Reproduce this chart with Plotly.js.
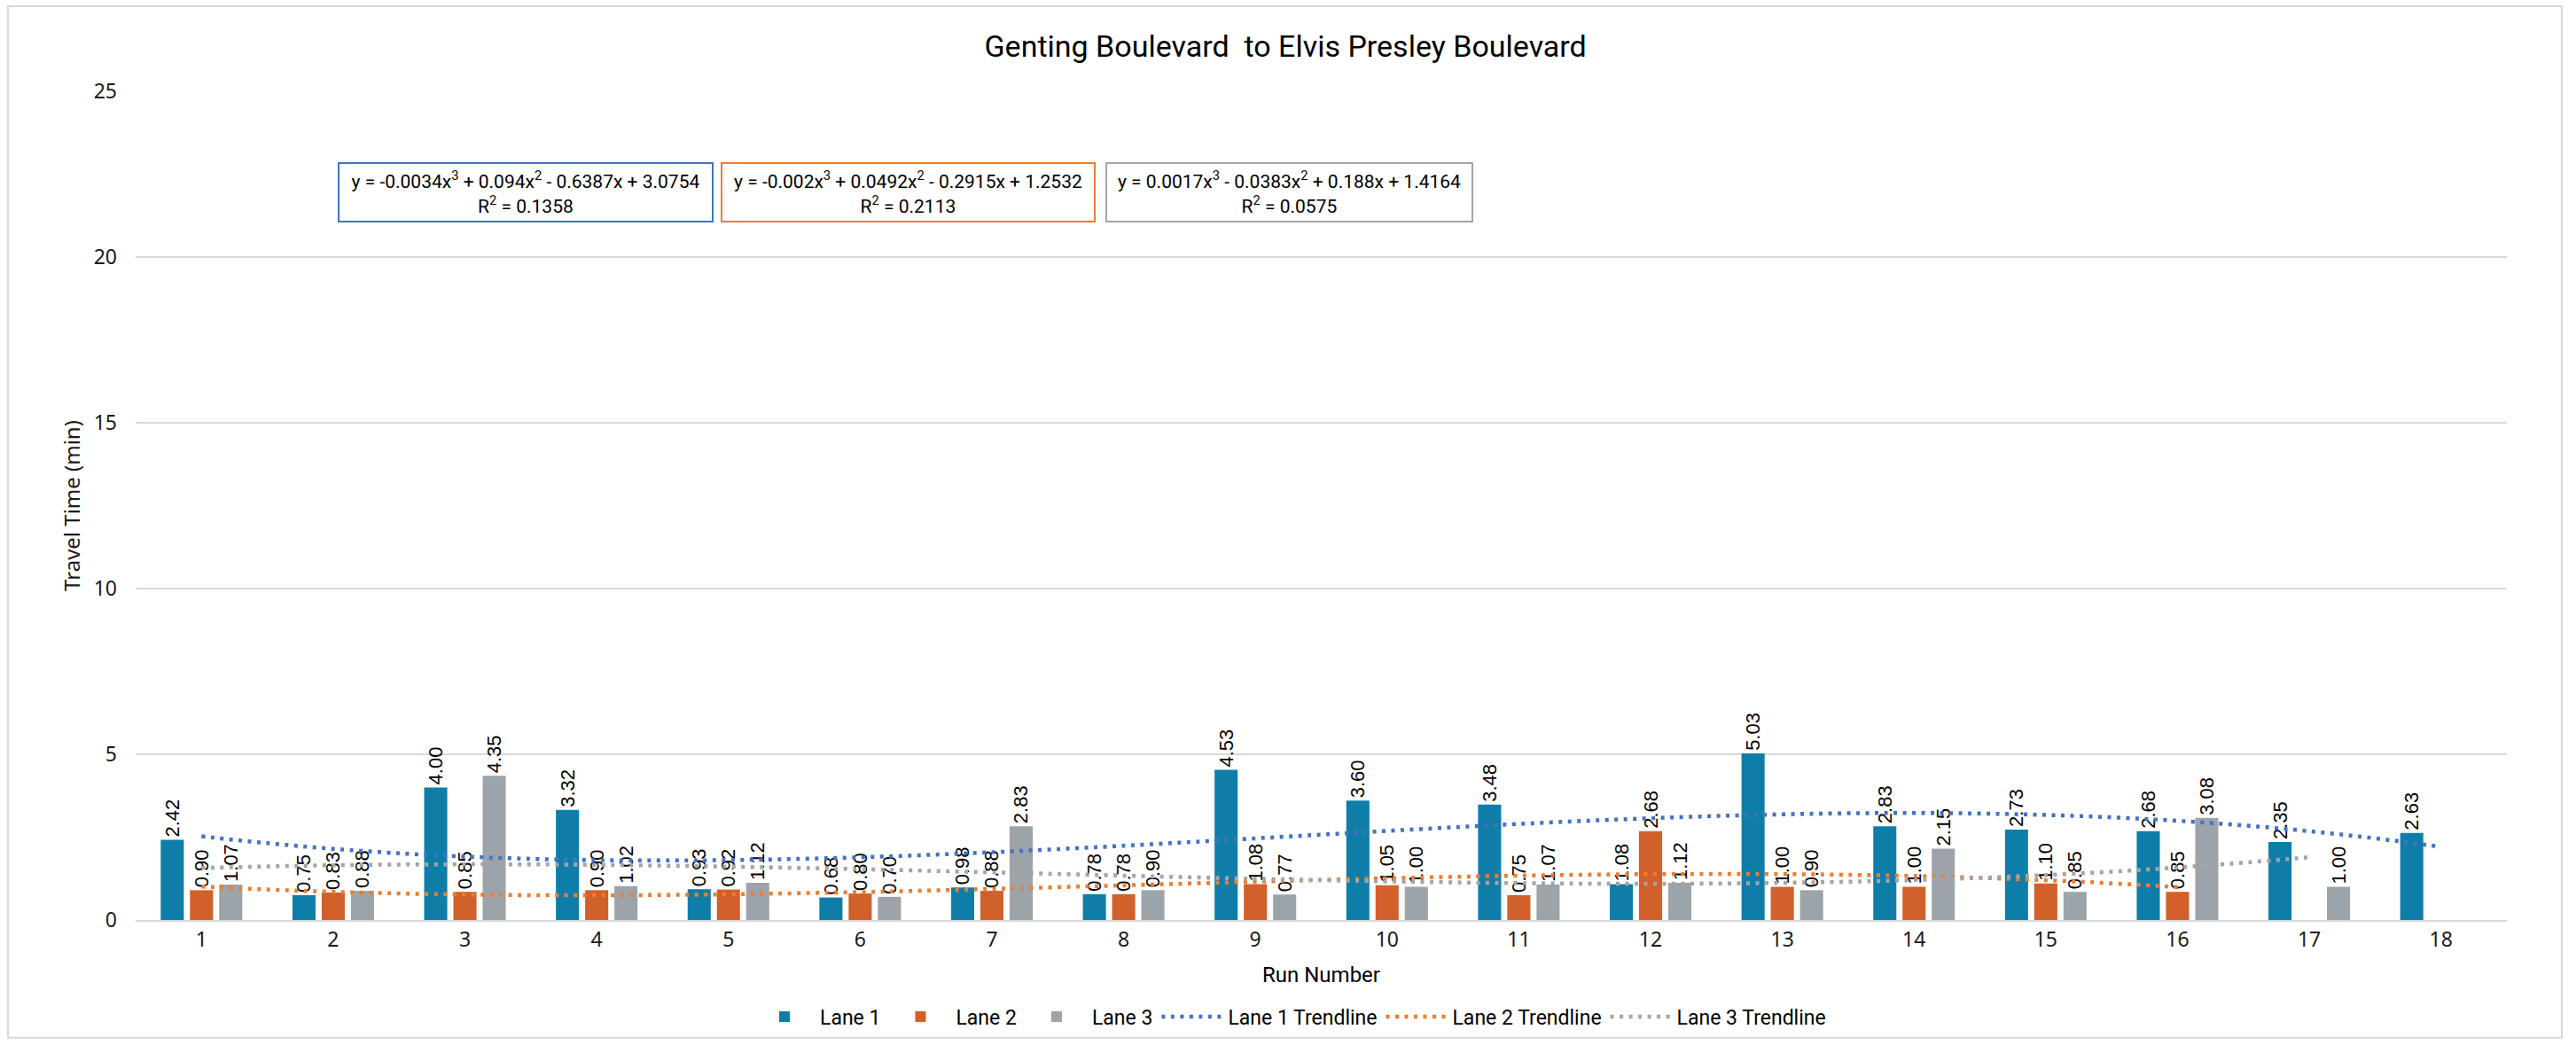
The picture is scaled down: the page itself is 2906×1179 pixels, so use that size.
<!DOCTYPE html>
<html>
<head>
<meta charset="utf-8">
<script src="https://cdn.plot.ly/plotly-3.0.1.min.js"></script>
<style>
  html, body { margin: 0; padding: 0; background: #ffffff; }
  #chart { width: 2906px; height: 1179px; }
</style>
</head>
<body>
<div id="chart"></div>
<script>
// ---- Data ----
const runNumbers = [1, 2, 3, 4, 5, 6, 7, 8, 9, 10, 11, 12, 13, 14, 15, 16, 17, 18];
const lane1 = [2.42, 0.75, 4.00, 3.32, 0.93, 0.68, 0.98, 0.78, 4.53, 3.60, 3.48, 1.08, 5.03, 2.83, 2.73, 2.68, 2.35, 2.63];
const lane2 = [0.90, 0.83, 0.85, 0.90, 0.92, 0.80, 0.88, 0.78, 1.08, 1.05, 0.75, 2.68, 1.00, 1.00, 1.10, 0.85, null, null];
const lane3 = [1.07, 0.88, 4.35, 1.02, 1.12, 0.70, 2.83, 0.90, 0.77, 1.00, 1.07, 1.12, 0.90, 2.15, 0.85, 3.08, 1.00, null];

// Polynomial (order 3) trendline coefficients as printed on the chart: [x^3, x^2, x, const]
const trend1Coef = [-0.0034, 0.094, -0.6387, 3.0754];
const trend2Coef = [-0.002, 0.0492, -0.2915, 1.2532];
const trend3Coef = [0.0017, -0.0383, 0.188, 1.4164];
const trend1R2 = "0.1358";
const trend2R2 = "0.2113";
const trend3R2 = "0.0575";

const seriesNames = ["Lane 1", "Lane 2", "Lane 3", "Lane 1 Trendline", "Lane 2 Trendline", "Lane 3 Trendline"];
const chartTitle = "Genting Boulevard  to Elvis Presley Boulevard";
const xTitle = "Run Number";
const yTitle = "Travel Time (min)";

// ---- Styling ----
const barColors = ["#0E7EA9", "#D2602A", "#9CA3A9"];
const trendColors = ["#4472C4", "#ED7D31", "#A5A5A5"];
const narrow = "Roboto, 'Liberation Sans', sans-serif";
const tickFont = "'Noto Sans', 'Open Sans', sans-serif";
const labelFont = "'Liberation Sans', Arial, sans-serif";

function countValid(arr) { let n = 0; arr.forEach(v => { if (v !== null) n++; }); return n; }

function trendCurve(coef, n) {
  const xs = [], ys = [];
  for (let i = 0; i <= (n - 1) * 10; i++) {
    const x = 1 + i / 10;
    xs.push(x);
    ys.push(coef[0] * x * x * x + coef[1] * x * x + coef[2] * x + coef[3]);
  }
  return { xs, ys };
}

function fmt(v) { return v === null ? null : v.toFixed(2); }

function eqText(coef, r2) {
  function term(c, first) {
    const s = Math.abs(c).toString();
    if (first) return (c < 0 ? "-" : "") + s;
    return (c < 0 ? " - " : " + ") + s;
  }
  return "y = " + term(coef[0], true) + "x<sup>3</sup>" + term(coef[1]) + "x<sup>2</sup>" +
         term(coef[2]) + "x" + term(coef[3]) + "<br>R<sup>2</sup> = " + r2;
}

const laneData = [lane1, lane2, lane3];
const coefs = [trend1Coef, trend2Coef, trend3Coef];
const r2s = [trend1R2, trend2R2, trend3R2];

const traces = [];
laneData.forEach((d, i) => {
  traces.push({
    type: "bar",
    name: seriesNames[i],
    x: runNumbers,
    y: d,
    marker: { color: barColors[i], line: { width: 0 } },
    text: d.map(fmt),
    textposition: "outside",
    textangle: -90,
    constraintext: "none",
    cliponaxis: false,
    textfont: { family: labelFont, size: 22, color: "#000000" },
    hoverinfo: "x+y+name"
  });
});
laneData.forEach((d, i) => {
  const c = trendCurve(coefs[i], countValid(d));
  traces.push({
    type: "scatter",
    mode: "lines",
    name: seriesNames[3 + i],
    x: c.xs,
    y: c.ys,
    line: { color: trendColors[i], width: 4.5, dash: "4px,6.5px", shape: "spline" },
    hoverinfo: "skip"
  });
});

// plot area in pixels: x 153..2828, y 103..1039
const L = 153, R = 2828, T = 103, B = 1039;
const px2x = p => (p - L) / (R - L);
const px2y = p => (B - p) / (B - T);

const boxes = [[381, 805], [813, 1236], [1247, 1662]];
const annotations = boxes.map((b, i) => ({
  xref: "paper", yref: "paper",
  x: px2x((b[0] + b[1]) / 2), y: px2y(217),
  xanchor: "center", yanchor: "middle",
  text: eqText(coefs[i], r2s[i]),
  showarrow: false,
  align: "center",
  font: { family: narrow, size: 21, color: "#000000" },
  bordercolor: trendColors[i],
  borderwidth: 2,
  borderpad: 0,
  width: b[1] - b[0] - 4,
  height: 64,
  bgcolor: "#ffffff"
}));

const layout = {
  width: 2906,
  height: 1179,
  paper_bgcolor: "#ffffff",
  plot_bgcolor: "#ffffff",
  margin: { l: L, r: 2906 - R, t: T, b: 1179 - B },
  title: {
    text: chartTitle,
    font: { family: narrow, size: 34, color: "#000000" },
    xref: "container", yref: "container",
    x: 0.499, xanchor: "center",
    y: 1 - 52 / 1179, yanchor: "middle"
  },
  barmode: "group",
  bargap: 0.334,
  bargroupgap: 0.21,
  showlegend: true,
  legend: {
    orientation: "h",
    x: px2x(1455), xanchor: "center",
    y: px2y(1147), yanchor: "middle",
    font: { family: narrow, size: 23, color: "#000000" },
    itemwidth: 70,
    traceorder: "normal"
  },
  xaxis: {
    type: "linear",
    range: [0.5, 18.5],
    tickmode: "array",
    tickvals: runNumbers,
    ticktext: runNumbers.map(String),
    showgrid: false,
    zeroline: false,
    showline: true,
    linecolor: "#D9D9D9",
    linewidth: 2,
    ticks: "",
    tickfont: { family: tickFont, size: 23, color: "#1a1a1a" },
    title: { text: xTitle, font: { family: narrow, size: 24, color: "#000000" }, standoff: 18 }
  },
  yaxis: {
    range: [0, 25],
    tickmode: "linear",
    tick0: 0,
    dtick: 5,
    showgrid: true,
    gridcolor: "#D9D9D9",
    gridwidth: 2,
    zeroline: false,
    showline: false,
    ticks: "",
    ticklabelstandoff: 20,
    tickfont: { family: tickFont, size: 23, color: "#1a1a1a" },
    title: { text: yTitle, font: { family: tickFont, size: 24, color: "#1a1a1a" }, standoff: 8 }
  },
  annotations: annotations,
  shapes: [{
    type: "rect", xref: "paper", yref: "paper",
    x0: px2x(9), x1: px2x(2890), y0: px2y(1172), y1: px2y(7),
    line: { color: "#D9D9D9", width: 2 },
    fillcolor: "rgba(0,0,0,0)",
    layer: "below"
  }]
};

Plotly.newPlot("chart", traces, layout, { displayModeBar: false, staticPlot: true });
</script>
</body>
</html>
